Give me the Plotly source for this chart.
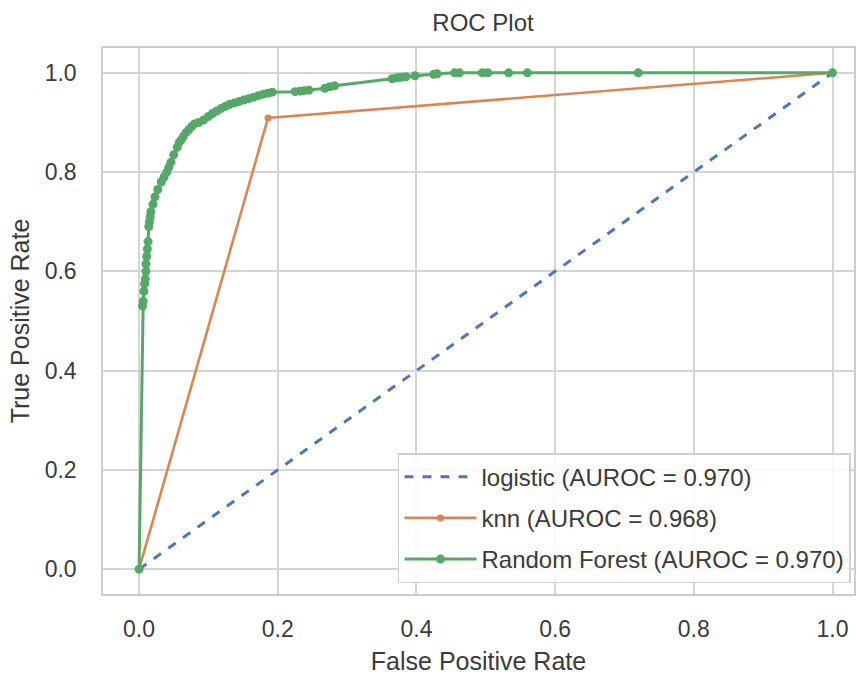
import plotly.graph_objects as go

# Data
logistic_fpr = [0.0, 1.0]
logistic_tpr = [0.0, 1.0]

knn_fpr = [0.0, 0.186, 1.0]
knn_tpr = [0.0, 0.909, 1.0]

rf_fpr = [0.0, 0.005, 0.006, 0.007, 0.008, 0.009, 0.010, 0.010, 0.011, 0.012, 0.013, 0.014,
          0.015, 0.016, 0.017, 0.020, 0.023, 0.027, 0.032, 0.036, 0.040, 0.043, 0.046, 0.050,
          0.055, 0.058, 0.061, 0.064, 0.068, 0.072, 0.076, 0.080, 0.086, 0.093, 0.100, 0.106,
          0.112, 0.118, 0.124, 0.130, 0.137, 0.144, 0.151, 0.158, 0.165, 0.172, 0.179, 0.186,
          0.192, 0.225, 0.232, 0.238, 0.245, 0.268, 0.275, 0.282, 0.365, 0.372, 0.378, 0.385,
          0.398, 0.425, 0.430, 0.455, 0.462, 0.495, 0.503, 0.533, 0.560, 0.720, 1.0]
rf_tpr = [0.0, 0.530, 0.540, 0.560, 0.575, 0.585, 0.600, 0.615, 0.630, 0.645, 0.660, 0.690,
          0.700, 0.710, 0.720, 0.735, 0.750, 0.765, 0.780, 0.790, 0.800, 0.810, 0.820, 0.835,
          0.850, 0.860, 0.865, 0.872, 0.880, 0.886, 0.892, 0.897, 0.900, 0.905, 0.912, 0.918,
          0.923, 0.928, 0.932, 0.936, 0.939, 0.942, 0.945, 0.948, 0.951, 0.954, 0.957, 0.959,
          0.961, 0.962, 0.963, 0.964, 0.965, 0.969, 0.972, 0.974, 0.988, 0.990, 0.991, 0.992,
          0.994, 0.997, 0.998, 1.0, 1.0, 1.0, 1.0, 1.0, 1.0, 1.0, 1.0]

names = ["logistic (AUROC = 0.970)", "knn (AUROC = 0.968)", "Random Forest (AUROC = 0.970)"]
tick_vals = [0.0, 0.2, 0.4, 0.6, 0.8, 1.0]

BLUE = "#5076b4"
ORANGE = "#dd8452"
GREEN = "#55a868"
FONT = "Liberation Sans, Arial, sans-serif"
TXT = "#3a3a3a"
GRID = "#d5d5d5"

fig = go.Figure()
fig.add_trace(go.Scatter(x=logistic_fpr, y=logistic_tpr, mode="lines", name=names[0],
                         line=dict(color=BLUE, width=3, dash="dash"), legendgroup="a"))
fig.add_trace(go.Scatter(x=knn_fpr, y=knn_tpr, mode="lines+markers", name=names[1],
                         line=dict(color=ORANGE, width=2.6),
                         marker=dict(color=ORANGE, size=7), legendgroup="b"))
fig.add_trace(go.Scatter(x=rf_fpr, y=rf_tpr, mode="lines+markers", name=names[2],
                         line=dict(color=GREEN, width=3),
                         marker=dict(color=GREEN, size=9), legendgroup="c"))

fig.update_layout(
    width=856, height=675,
    margin=dict(l=103, r=0, t=48, b=81),
    paper_bgcolor="white", plot_bgcolor="white",
    font=dict(family=FONT, color=TXT, size=23),
    title=dict(text="ROC Plot", x=0.506, xref="paper", xanchor="center",
               y=1 - 23 / 675, yanchor="middle", font=dict(size=24, color=TXT)),
    showlegend=True,
    legend=dict(x=0.996, y=0.02, xanchor="right", yanchor="bottom",
                bgcolor="rgba(255,255,255,0.85)", bordercolor="#d0d0d0", borderwidth=1.5,
                font=dict(size=24, color=TXT), tracegroupgap=7, itemwidth=72),
)
fig.update_xaxes(range=[-0.052, 1.031], tickvals=tick_vals, tickformat=".1f",
                 showgrid=True, gridcolor=GRID, gridwidth=1.5, zeroline=False,
                 showline=True, linecolor="#cccccc", linewidth=1.5, mirror=True,
                 ticks="", ticklabelstandoff=14, tickfont=dict(size=23),
                 title=dict(text="False Positive Rate", font=dict(size=25), standoff=12))
fig.update_yaxes(range=[-0.05, 1.05], tickvals=tick_vals, tickformat=".1f",
                 showgrid=True, gridcolor=GRID, gridwidth=1.5, zeroline=False,
                 showline=True, linecolor="#cccccc", linewidth=1.5, mirror=True,
                 ticks="", ticklabelstandoff=20, tickfont=dict(size=23),
                 title=dict(text="True Positive Rate", font=dict(size=25), standoff=8))

fig.write_html("out.html")
